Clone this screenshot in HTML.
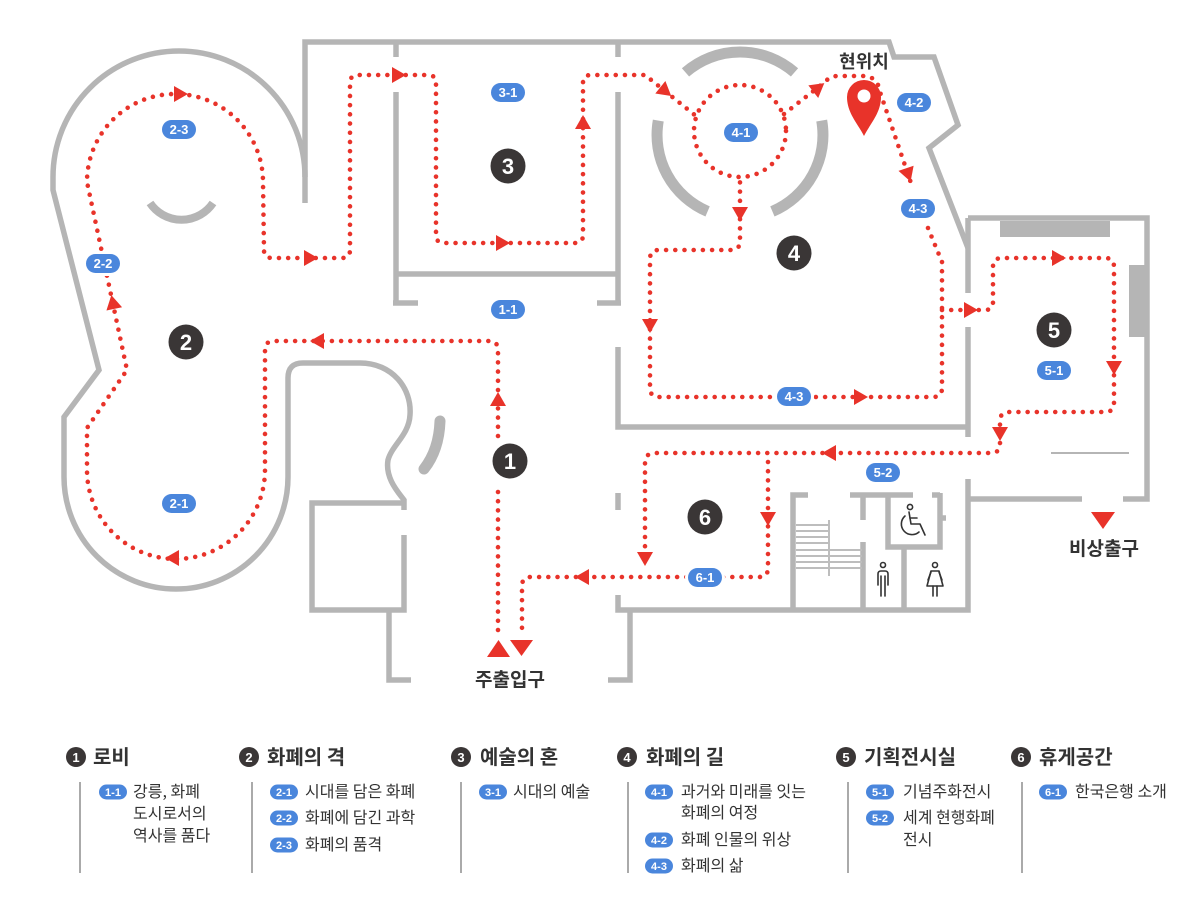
<!DOCTYPE html>
<html><head><meta charset="utf-8">
<style>
html,body{margin:0;padding:0;background:#fff;}
svg{display:block;}
text{font-family:"Liberation Sans","Noto Sans CJK KR",sans-serif;}
.kr{font-family:"Noto Sans CJK KR","Liberation Sans",sans-serif;}
</style></head><body>
<svg width="1200" height="912" viewBox="0 0 1200 912" xmlns="http://www.w3.org/2000/svg">
<defs>
 <path id="tri" d="M-6,-8 L8,0 L-6,8 Z" fill="#e8332a"/>
</defs>
<rect width="1200" height="912" fill="#fff"/>

<!-- WALLS -->
<g fill="none" stroke="#b5b5b5" stroke-width="5.5" stroke-linejoin="miter">
 <path d="M305,203 L305,42 L889,42 L894,57 L934,57 L958,125 L929,148 L968,248"/>
 <path d="M305,177 A126,126 0 0 0 53,177 L53,190 L99,370 L64,417 L64,477 A112,112 0 0 0 288,477 L288,378 Q288,363 303,363 L360,363 C392,363 412,388 410,415 C409,435 392,445 388,460 C385,478 398,492 404,500 L404,510"/>
 <path d="M404,535 L404,610 L312,610 L312,503 L404,503"/>
 <path d="M389,610 L389,680 L411,680"/>
 <path d="M396,42 L396,57 M618,42 L618,57"/>
 <path d="M396,92 L396,303 M393,303 L418,303"/>
 <path d="M396,274 L618,274"/>
 <path d="M618,92 L618,303 M597,303 L621,303"/>
 <path d="M618,347 L618,427 L968,427"/>
 <path d="M968,218 L968,293 M968,327 L968,437"/>
 <path d="M968,218 L1147,218 L1147,499 L1123,499 M1082,499 L968,499"/>
 <path d="M968,479 L968,610 L618,610 L618,595 M618,493 L618,510"/>
 <path d="M630,610 L630,680 L608,680"/>
 <path d="M808,495 L793,495 L793,610"/>
 <path d="M863,493 L863,520 M863,542 L863,610"/>
 <path d="M850,495 L913,495"/>
 <path d="M888,495 L888,547 L940,547 L940,493 M932,495 L940,495 M940,518 L946,518"/>
 <path d="M904,547 L904,610"/>
</g>
<rect x="1000" y="221" width="110" height="16" fill="#b5b5b5"/>
<rect x="1129" y="265" width="16" height="72" fill="#b5b5b5"/>
<path d="M1051,453 L1129,453" stroke="#b5b5b5" stroke-width="2"/>
<g stroke="#bdbdbd" stroke-width="2" fill="none">
 <path d="M796,525 L829,525 M796,531 L829,531 M796,537 L829,537 M796,543 L829,543"/>
 <path d="M796,550 L862,550 M796,556 L862,556 M796,562 L862,562 M796,568 L862,568"/>
 <path d="M829,520 L829,576"/>
</g>
<g fill="none" stroke="#b5b5b5">
 <path d="M150,203 A38,38 0 0 0 213,203" stroke-width="8"/>
 <path d="M440,421 Q439,450 424,469" stroke-width="11" stroke-linecap="round"/>
 <path d="M685.5,72.4 A83,83 0 0 1 794.5,72.4" stroke-width="11"/>
 <path d="M658.3,120.6 A83,83 0 0 0 707.6,211.4" stroke-width="11"/>
 <path d="M821.7,120.6 A83,83 0 0 1 772.4,211.4" stroke-width="11"/>
</g>

<!-- DOTTED PATHS -->
<g fill="none" stroke="#e8332a" stroke-width="4.6" stroke-linecap="round" stroke-dasharray="0 9.2">
 <path d="M498,630 L498,488"/>
 <path d="M498,436 L498,350 Q498,341 489,341 L274,341 Q265,341 265,350 L265,470 A89,89 0 0 1 87,470 L87,428 L127,370 L87,182 A88,88 0 0 1 263,182 L264,250 Q264,258 272,258 L342,258 Q350,258 350,250 L350,83 Q350,75 358,75 L428,75 Q436,75 436,83 L436,235 Q436,243 444,243 L575,243 Q583,243 583,235 L583,83 Q583,75 591,75 L645,75 L696,116"/>
 <circle cx="740" cy="131" r="46"/>
 <path d="M784,114 L825,82 Q830,76 838,76 L866,76 Q878,78 880,92 L912,186"/>
 <path d="M928,228 L942,262 L942,388 Q942,397 933,397 L659,397 Q650,397 650,388 L650,259 Q650,250 659,250 L731,250 Q740,250 740,241 L740,178"/>
 <path d="M942,310 L985,310 Q993,310 993,302 L993,267 Q993,258 1002,258 L1105,258 Q1114,258 1114,267 L1114,403 Q1114,412 1105,412 L1009,412 Q1000,412 1000,421 L1000,444 Q1000,453 991,453 L655,453 Q645,453 645,463 L645,552"/>
 <path d="M768,462 L768,568 Q768,577 759,577 L531,577 Q522,577 522,586 L522,632"/>
</g>

<!-- ARROWS -->
<use href="#tri" transform="translate(498,400) rotate(-90)"/>
<use href="#tri" transform="translate(318,341) rotate(180)"/>
<use href="#tri" transform="translate(173,558) rotate(180)"/>
<use href="#tri" transform="translate(113,303) rotate(-102)"/>
<use href="#tri" transform="translate(180,94)"/>
<use href="#tri" transform="translate(310,258)"/>
<use href="#tri" transform="translate(398,75)"/>
<use href="#tri" transform="translate(502,243)"/>
<use href="#tri" transform="translate(583,123) rotate(-90)"/>
<use href="#tri" transform="translate(665,91) rotate(39)"/>
<use href="#tri" transform="translate(818,88) rotate(-38)"/>
<use href="#tri" transform="translate(908,174) rotate(71)"/>
<use href="#tri" transform="translate(740,213) rotate(90)"/>
<use href="#tri" transform="translate(650,325) rotate(90)"/>
<use href="#tri" transform="translate(860,397)"/>
<use href="#tri" transform="translate(970,310)"/>
<use href="#tri" transform="translate(1058,258)"/>
<use href="#tri" transform="translate(1114,367) rotate(90)"/>
<use href="#tri" transform="translate(1000,433) rotate(90)"/>
<use href="#tri" transform="translate(830,453) rotate(180)"/>
<use href="#tri" transform="translate(768,518) rotate(90)"/>
<use href="#tri" transform="translate(645,558) rotate(90)"/>
<use href="#tri" transform="translate(583,577) rotate(180)"/>
<path d="M487,657 L498.5,640 L510,657 Z" fill="#e8332a"/>
<path d="M510,640 L533,640 L521.5,656 Z" fill="#e8332a"/>
<path d="M1091,512 L1115,512 L1103,529 Z" fill="#e8332a"/>

<!-- PIN -->
<path d="M864,136 C858,124 847,113 847,97 A17,17 0 1 1 881,97 C881,113 870,124 864,136 Z" fill="#e8332a"/>
<circle cx="864" cy="96" r="6.5" fill="#fff"/>

<!-- ICONS -->
<g fill="none" stroke="#333" stroke-width="1.6" stroke-linecap="round" stroke-linejoin="round">
 <circle cx="910" cy="507" r="2.6"/>
 <path d="M909,512 L911,524 L920,524 L925,535"/>
 <path d="M910,518 L917,518"/>
 <path d="M905,516 A9,9 0 1 0 919,532"/>
 <circle cx="883" cy="565" r="2.5"/>
 <path d="M878,585 L878,574 Q878,571 881,571 L885,571 Q888,571 888,574 L888,585"/>
 <path d="M881,576 L881,596 M885,576 L885,596"/>
 <circle cx="935" cy="565" r="2.5"/>
 <path d="M931,571 L939,571 L943,586 L927,586 Z"/>
 <path d="M931,572 L928,580 M939,572 L942,580"/>
 <path d="M933,586 L933,596 M937,586 L937,596"/>
</g>

<!-- NUMBER BADGES -->
<g font-weight="700" font-size="22" fill="#fff" text-anchor="middle">
 <circle cx="510" cy="461" r="17.5" fill="#3a3636"/><text x="510" y="469">1</text>
 <circle cx="186" cy="342" r="17.5" fill="#3a3636"/><text x="186" y="350">2</text>
 <circle cx="508" cy="166" r="17.5" fill="#3a3636"/><text x="508" y="174">3</text>
 <circle cx="794" cy="253" r="17.5" fill="#3a3636"/><text x="794" y="261">4</text>
 <circle cx="1054" cy="330" r="17.5" fill="#3a3636"/><text x="1054" y="338">5</text>
 <circle cx="705" cy="517" r="17.5" fill="#3a3636"/><text x="705" y="525">6</text>
</g>

<!-- SUB BADGES -->
<g font-weight="700" font-size="13" fill="#fff" text-anchor="middle">
 <rect x="162" y="120" width="34" height="19" rx="9.5" fill="#4a86dc" stroke="#fff" stroke-width="6" paint-order="stroke"/><text x="179" y="134">2-3</text>
 <rect x="86" y="254" width="34" height="19" rx="9.5" fill="#4a86dc" stroke="#fff" stroke-width="6" paint-order="stroke"/><text x="103" y="268">2-2</text>
 <rect x="162" y="494" width="34" height="19" rx="9.5" fill="#4a86dc" stroke="#fff" stroke-width="6" paint-order="stroke"/><text x="179" y="508">2-1</text>
 <rect x="491" y="83" width="34" height="19" rx="9.5" fill="#4a86dc" stroke="#fff" stroke-width="6" paint-order="stroke"/><text x="508" y="97">3-1</text>
 <rect x="491" y="300" width="34" height="19" rx="9.5" fill="#4a86dc" stroke="#fff" stroke-width="6" paint-order="stroke"/><text x="508" y="314">1-1</text>
 <rect x="724" y="123" width="34" height="19" rx="9.5" fill="#4a86dc" stroke="#fff" stroke-width="6" paint-order="stroke"/><text x="741" y="137">4-1</text>
 <rect x="897" y="93" width="34" height="19" rx="9.5" fill="#4a86dc" stroke="#fff" stroke-width="6" paint-order="stroke"/><text x="914" y="107">4-2</text>
 <rect x="901" y="199" width="34" height="19" rx="9.5" fill="#4a86dc" stroke="#fff" stroke-width="6" paint-order="stroke"/><text x="918" y="213">4-3</text>
 <rect x="777" y="387" width="34" height="19" rx="9.5" fill="#4a86dc" stroke="#fff" stroke-width="6" paint-order="stroke"/><text x="794" y="401">4-3</text>
 <rect x="1037" y="361" width="34" height="19" rx="9.5" fill="#4a86dc" stroke="#fff" stroke-width="6" paint-order="stroke"/><text x="1054" y="375">5-1</text>
 <rect x="866" y="463" width="34" height="19" rx="9.5" fill="#4a86dc" stroke="#fff" stroke-width="6" paint-order="stroke"/><text x="883" y="477">5-2</text>
 <rect x="688" y="568" width="34" height="19" rx="9.5" fill="#4a86dc" stroke="#fff" stroke-width="6" paint-order="stroke"/><text x="705" y="582">6-1</text>
</g>

<!-- MAP LABELS -->
<g font-weight="700" fill="#333" text-anchor="middle">
 <text x="864" y="68" font-size="18" class="kr">현위치</text>
 <text x="510" y="686" font-size="19" class="kr">주출입구</text>
 <text x="1104" y="555" font-size="19" class="kr">비상출구</text>
</g>

<!-- LEGEND -->
<g stroke="#555" stroke-width="1">
 <path d="M80,782 L80,873 M252,782 L252,873 M461,782 L461,873 M628,782 L628,873 M848,782 L848,873 M1022,782 L1022,873"/>
</g>
<g font-weight="700" font-size="13" fill="#fff" text-anchor="middle">
 <circle cx="76" cy="757" r="10" fill="#3a3636"/><text x="76" y="762">1</text>
 <circle cx="249" cy="757" r="10" fill="#3a3636"/><text x="249" y="762">2</text>
 <circle cx="461" cy="757" r="10" fill="#3a3636"/><text x="461" y="762">3</text>
 <circle cx="627" cy="757" r="10" fill="#3a3636"/><text x="627" y="762">4</text>
 <circle cx="846" cy="757" r="10" fill="#3a3636"/><text x="846" y="762">5</text>
 <circle cx="1021" cy="757" r="10" fill="#3a3636"/><text x="1021" y="762">6</text>
</g>
<g font-weight="700" font-size="20" fill="#333">
 <text x="93" y="764" class="kr">로비</text>
 <text x="267" y="764" class="kr">화폐의 격</text>
 <text x="480" y="764" class="kr">예술의 혼</text>
 <text x="646" y="764" class="kr">화폐의 길</text>
 <text x="864" y="764" class="kr">기획전시실</text>
 <text x="1039" y="764" class="kr">휴게공간</text>
</g>
<g font-weight="700" font-size="11" fill="#fff" text-anchor="middle">
 <rect x="99" y="784.5" width="28" height="15" rx="7.5" fill="#4a86dc"/><text x="113" y="796">1-1</text>
 <rect x="270" y="784.5" width="28" height="15" rx="7.5" fill="#4a86dc"/><text x="284" y="796">2-1</text>
 <rect x="270" y="810.5" width="28" height="15" rx="7.5" fill="#4a86dc"/><text x="284" y="822">2-2</text>
 <rect x="270" y="837.5" width="28" height="15" rx="7.5" fill="#4a86dc"/><text x="284" y="849">2-3</text>
 <rect x="479" y="784.5" width="28" height="15" rx="7.5" fill="#4a86dc"/><text x="493" y="796">3-1</text>
 <rect x="645" y="784.5" width="28" height="15" rx="7.5" fill="#4a86dc"/><text x="659" y="796">4-1</text>
 <rect x="645" y="832.5" width="28" height="15" rx="7.5" fill="#4a86dc"/><text x="659" y="844">4-2</text>
 <rect x="645" y="858.5" width="28" height="15" rx="7.5" fill="#4a86dc"/><text x="659" y="870">4-3</text>
 <rect x="866" y="784.5" width="28" height="15" rx="7.5" fill="#4a86dc"/><text x="880" y="796">5-1</text>
 <rect x="866" y="810.5" width="28" height="15" rx="7.5" fill="#4a86dc"/><text x="880" y="822">5-2</text>
 <rect x="1039" y="784.5" width="28" height="15" rx="7.5" fill="#4a86dc"/><text x="1053" y="796">6-1</text>
</g>
<g font-size="16" fill="#333">
 <text x="133" y="797" class="kr">강릉, 화폐</text>
 <text x="133" y="819" class="kr">도시로서의</text>
 <text x="133" y="841" class="kr">역사를 품다</text>
 <text x="305" y="797" class="kr">시대를 담은 화폐</text>
 <text x="305" y="823" class="kr">화폐에 담긴 과학</text>
 <text x="305" y="850" class="kr">화폐의 품격</text>
 <text x="513" y="797" class="kr">시대의 예술</text>
 <text x="681" y="797" class="kr">과거와 미래를 잇는</text>
 <text x="681" y="818" class="kr">화폐의 여정</text>
 <text x="681" y="845" class="kr">화폐 인물의 위상</text>
 <text x="681" y="871" class="kr">화폐의 삶</text>
 <text x="903" y="797" class="kr">기념주화전시</text>
 <text x="903" y="823" class="kr">세계 현행화폐</text>
 <text x="903" y="845" class="kr">전시</text>
 <text x="1075" y="797" class="kr">한국은행 소개</text>
</g>
</svg>
</body></html>
